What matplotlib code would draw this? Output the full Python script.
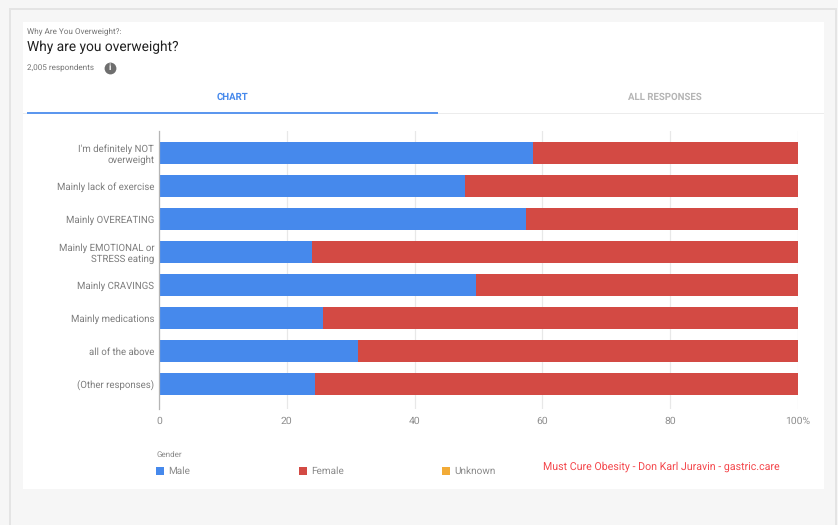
import matplotlib
matplotlib.use("Agg")
import matplotlib.pyplot as plt
import numpy as np
from matplotlib.patches import Rectangle

W, H = 838, 525

categories = ["I'm definitely NOT\noverweight", "Mainly lack of exercise", "Mainly OVEREATING",
              "Mainly EMOTIONAL or\nSTRESS eating", "Mainly CRAVINGS", "Mainly medications",
              "all of the above", "(Other responses)"]
male = [58.5, 47.9, 57.4, 23.9, 49.6, 25.7, 31.1, 24.4]
female = [41.5, 52.1, 42.6, 76.1, 50.4, 74.3, 68.9, 75.6]
xticks = [0, 20, 40, 60, 80, 100]
xtick_labels = ["0", "20", "40", "60", "80", "100%"]
legend_labels = ["Male", "Female", "Unknown"]

BLUE = "#4689ec"
RED = "#d34a44"
ORANGE = "#f2ab37"

plt.rcParams["font.family"] = ["Roboto", "DejaVu Sans"]
# the small labels get squeezed unevenly with hinting on
plt.rcParams["text.hinting"] = "no_hinting"
plt.rcParams["text.hinting_factor"] = 8

fig = plt.figure(figsize=(W / 100, H / 100), dpi=100, facecolor="#f6f6f6")

# whole-figure overlay in pixel coordinates, y pointing down
bg = fig.add_axes([0, 0, 1, 1])
bg.set_xlim(0, W)
bg.set_ylim(H, 0)
bg.set_axis_off()


def rect(x0, y0, x1, y1, color):
    bg.add_patch(Rectangle((x0, y0), x1 - x0, y1 - y0, facecolor=color, edgecolor="none"))


# outer frame and white card
rect(9, 8, 836, 10, "#e4e4e4")
rect(9, 8, 11, H, "#e4e4e4")
rect(835, 8, 837, H, "#e4e4e4")
rect(23, 22, 824, 489, "white")

bg.text(27, 31.5, "Why Are You Overweight?:", fontsize=5.9, color="#757575", va="center")
bg.text(27, 47.5, "Why are you overweight?", fontsize=9.95, color="#212121", va="center")
bg.text(27, 67.5, "2,005 respondents", fontsize=5.85, color="#757575", va="center")
bg.plot([110], [68], "o", ms=8.5, color="#6e6e6e", mew=0)
bg.text(110, 68, "i", fontsize=6.5, color="white", ha="center", va="center", fontweight="bold")

# tabs
bg.text(232.5, 97.5, "CHART", fontsize=6.9, color=BLUE, ha="center", va="center", fontweight="bold")
bg.text(665, 97.5, "ALL RESPONSES", fontsize=6.9, color="#b5b5b5", ha="center", va="center", fontweight="bold")
rect(23, 113, 824, 114, "#ececec")
rect(27, 112, 438, 114, "#5c97ee")

# legend
bg.text(156.5, 454.5, "Gender", fontsize=5.8, color="#8a8a8a", va="center")
for x0, label, color in zip([156, 299, 442], legend_labels, [BLUE, RED, ORANGE]):
    rect(x0, 467, x0 + 8, 475, color)
    bg.text(x0 + 12, 471, label, fontsize=7.2, color="#8a8a8a", va="center")

bg.text(543, 466.5, "Must Cure Obesity - Don Karl Juravin - gastric.care",
        fontsize=7.67, color="#f4474c", va="center")

# chart axes placed by pixel box
left, right, top, bottom = 159, 798, 131, 409
ax = fig.add_axes([left / W, 1 - bottom / H, (right - left) / W, (bottom - top) / H])
ax.patch.set_alpha(0)

y = np.arange(len(categories))
ax.barh(y, male, height=0.67, color=BLUE, zorder=3)
ax.barh(y, female, left=male, height=0.67, color=RED, zorder=3)

ax.set_xlim(0, 100)
ax.set_ylim(7 + 25 / 33, -22 / 33)
ax.set_xticks(xticks, xtick_labels)
ax.set_yticks(y, categories)
ax.tick_params(axis="both", length=0, labelsize=7.5, labelcolor="#7d7d7d")
ax.tick_params(axis="x", pad=5, labelcolor="#8e8e8e")
ax.tick_params(axis="y", pad=3.5, labelsize=6.92)
for label in ax.get_yticklabels():
    label.set_linespacing(1.2)
ax.grid(axis="x", color="#e8e8e8", lw=0.9, zorder=0)
for side in ["top", "right", "bottom"]:
    ax.spines[side].set_visible(False)
ax.spines["left"].set_color("#b5b5b5")
ax.spines["left"].set_linewidth(0.9)
ax.spines["left"].set_zorder(4)

fig.savefig("out.png", dpi=100, facecolor=fig.get_facecolor())
